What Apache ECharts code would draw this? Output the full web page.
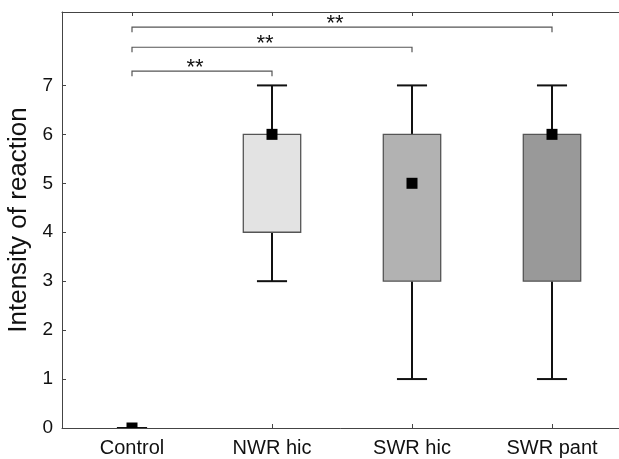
<!DOCTYPE html>
<html>
<head>
<meta charset="utf-8">
<script src="https://cdn.jsdelivr.net/npm/echarts@6/dist/echarts.min.js"></script>
<style>
html,body{margin:0;padding:0;background:#fff;}
#chart{width:619px;height:459px;}
</style>
</head>
<body>
<div id="chart"></div>
<script>
// ---- data ----
const categories = ['Control', 'NWR hic', 'SWR hic', 'SWR pant'];
const whiskerLow  = [0, 3, 1, 1];
const quartile1   = [0, 4, 3, 3];
const medians     = [0, 6, 5, 6];
const quartile3   = [0, 6, 6, 6];
const whiskerHigh = [0, 7, 7, 7];
const yTicks = [0, 1, 2, 3, 4, 5, 6, 7];
const bracketFrom   = [0, 0, 0];
const bracketTo     = [1, 2, 3];
const bracketLevel  = [7.29, 7.78, 8.19];
const bracketLabels = ['**', '**', '**'];

// ---- styles ----
const boxFill = ['#ffffff', '#e3e3e3', '#b2b2b2', '#999999'];
const FONT = '"Liberation Sans", Arial, sans-serif';
const AXIS_COLOR = '#444';

const boxData = categories.map((c, i) => [i, whiskerLow[i], quartile1[i], medians[i], quartile3[i], whiskerHigh[i]]);
const bracketData = bracketFrom.map((f, i) => [f, bracketTo[i], bracketLevel[i]]);

function renderBox(params, api) {
  const x = api.value(0);
  const pLow = api.coord([x, api.value(1)]);
  const pQ1 = api.coord([x, api.value(2)]);
  const pMed = api.coord([x, api.value(3)]);
  const pQ3 = api.coord([x, api.value(4)]);
  const pHigh = api.coord([x, api.value(5)]);
  const band = api.size([1, 0])[0];
  const boxW = band * 0.41;
  const capW = band * 0.215;
  const cx = pMed[0];
  const wStyle = { stroke: '#111', lineWidth: 2 };
  const children = [
    { type: 'line', shape: { x1: cx, y1: pHigh[1], x2: cx, y2: pQ3[1] }, style: wStyle },
    { type: 'line', shape: { x1: cx, y1: pQ1[1], x2: cx, y2: pLow[1] }, style: wStyle },
  ];
  if (pQ1[1] - pQ3[1] > 0.5) {
    children.push({ type: 'rect', shape: { x: cx - boxW / 2, y: pQ3[1], width: boxW, height: pQ1[1] - pQ3[1] },
      style: { fill: boxFill[params.dataIndex], stroke: '#555', lineWidth: 1.3 } });
  }
  children.push({ type: 'line', shape: { x1: cx - capW / 2, y1: pHigh[1], x2: cx + capW / 2, y2: pHigh[1] }, style: wStyle });
  children.push({ type: 'line', shape: { x1: cx - capW / 2, y1: pLow[1], x2: cx + capW / 2, y2: pLow[1] }, style: wStyle });
  children.push({ type: 'rect', shape: { x: cx - 5.5, y: pMed[1] - 5.5, width: 11, height: 11 }, style: { fill: '#000' } });
  return { type: 'group', children: children };
}

function renderBracket(params, api) {
  const lvl = api.value(2);
  const p1 = api.coord([api.value(0), lvl]);
  const p2 = api.coord([api.value(1), lvl]);
  const tick = 5;
  return {
    type: 'group',
    children: [
      { type: 'polyline', shape: { points: [[p1[0], p1[1] + tick], [p1[0], p1[1]], [p2[0], p1[1]], [p2[0], p2[1] + tick]] },
        style: { stroke: '#555', lineWidth: 1.2, fill: null } },
      { type: 'text', style: { text: bracketLabels[params.dataIndex], x: (p1[0] + p2[0]) / 2 - 7, y: p1[1] + 8,
        align: 'center', verticalAlign: 'bottom', font: '22px ' + FONT, fill: '#111' } }
    ]
  };
}

const chart = echarts.init(document.getElementById('chart'), null, { renderer: 'canvas' });
chart.setOption({
  animation: false,
  backgroundColor: '#fff',
  grid: { left: 62, top: 12, width: 560, height: 416, containLabel: false, outerBoundsMode: 'none' },
  xAxis: [{
    type: 'category', data: categories, position: 'bottom',
    axisLine: { show: true, lineStyle: { color: AXIS_COLOR, width: 1 } },
    axisTick: { show: true, inside: true, alignWithLabel: true, length: 4, lineStyle: { color: AXIS_COLOR } },
    axisLabel: { color: '#111', fontSize: 20, fontFamily: FONT, margin: 10 },
    splitLine: { show: false }
  }, {
    type: 'category', data: categories, position: 'top',
    axisLine: { show: true, lineStyle: { color: AXIS_COLOR, width: 1 } },
    axisTick: { show: true, inside: true, alignWithLabel: true, length: 4, lineStyle: { color: AXIS_COLOR } },
    axisLabel: { show: false },
    splitLine: { show: false }
  }],
  yAxis: {
    type: 'value', min: 0, max: 8.5, interval: 1,
    name: 'Intensity of reaction', nameLocation: 'middle', nameGap: 25,
    nameTextStyle: { color: '#111', fontSize: 26, fontFamily: FONT },
    axisLine: { show: true, lineStyle: { color: AXIS_COLOR, width: 1 } },
    axisTick: { show: true, inside: true, length: 4, customValues: yTicks, lineStyle: { color: AXIS_COLOR } },
    axisLabel: { color: '#111', fontSize: 19, fontFamily: FONT, margin: 9, customValues: yTicks },
    splitLine: { show: false }
  },
  series: [{
    type: 'custom', name: 'box', renderItem: renderBox, data: boxData, clip: true,
    encode: { x: 0, y: [1, 2, 3, 4, 5] }, z: 2
  }, {
    type: 'custom', name: 'brackets', renderItem: renderBracket, data: bracketData, clip: false,
    encode: { x: [0, 1], y: 2 }, z: 3
  }]
});
</script>
</body>
</html>
